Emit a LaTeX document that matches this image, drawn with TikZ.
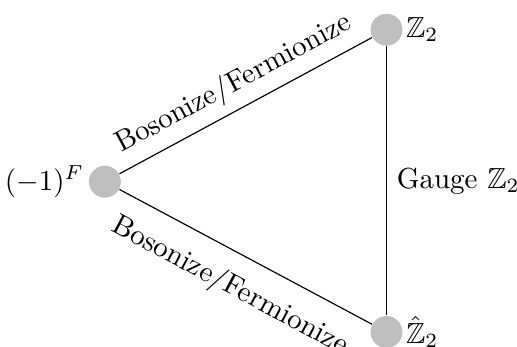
\documentclass[tikz,border=0pt]{standalone}
\usepackage{amsmath}
\usepackage{amssymb}
\usetikzlibrary{positioning}

\begin{document}
\begin{tikzpicture}[dot/.style={circle,fill=black!25,minimum size=11pt,inner sep=0pt}]

\useasboundingbox (-1.27,-2.0) rectangle (4.99,2.2);

\node [dot,label={[label distance=-2pt]left:$(-1)^F$}] (ferm) at (0,0) {};
\node [dot,label={[label distance=-2.5pt]right:$\mathbb{Z}_2$}] (zt) at (3.41,1.84) {};
\node [dot,label={[label distance=-2.5pt]right:$\hat{\mathbb{Z}}_2$}] (zh) at (3.41,-1.82) {};

\draw (ferm) -- node [above,sloped] {Bosonize/Fermionize} (zt);
\draw (ferm) -- node [below=3pt,sloped] {Bosonize/Fermionize} (zh);
\draw (zt) -- node [right] {Gauge $\mathbb{Z}_2$} (zh);
\end{tikzpicture}
\end{document}
